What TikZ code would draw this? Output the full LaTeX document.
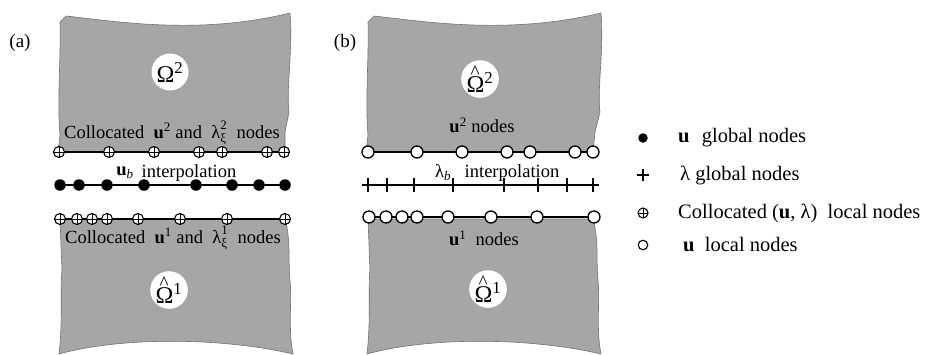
\documentclass[tikz,border=0pt]{standalone}
\usepackage{fontspec}
\usepackage{amsmath}
\setmainfont{Liberation Serif}

\definecolor{regiongray}{RGB}{166,166,166}
\definecolor{regionedge}{RGB}{115,115,115}

% caret placed over an Omega
\newcommand{\hatOmega}{\rlap{\hspace{0.17em}\raisebox{0.58em}{\fontsize{0.8em}{1em}\selectfont\textasciicircum}}Ω}

\begin{document}
\begin{tikzpicture}[x=1pt,y=-1pt,
  region/.style={fill=regiongray, draw=regionedge, line width=0.6},
  iface/.style={line width=1.8, draw=black},
  colnode/.style={circle, draw=black, fill=white, line width=1.1, minimum size=11, inner sep=0,
    path picture={\draw[line width=1]
      (path picture bounding box.north) -- (path picture bounding box.south)
      (path picture bounding box.west) -- (path picture bounding box.east);}},
  dotnode/.style={circle, fill=black, minimum size=11.5, inner sep=0},
  opennode/.style={circle, draw=black, fill=white, line width=1.3, minimum size=12, inner sep=0},
  plusspot/.style={circle, inner sep=0, minimum size=0},
  plusstroke/.style={line width=2.8, draw=black},
  domlabel/.style={circle, fill=white, minimum size=37, inner sep=0, font=\fontsize{24}{26}\selectfont},
  txt/.style={font=\fontsize{18.5}{21}\selectfont, inner sep=0},
  keytxt/.style={font=\fontsize{20.5}{23}\selectfont, inner sep=0, anchor=west},
  panel/.style={font=\fontsize{19}{21}\selectfont, inner sep=0},
]
\useasboundingbox (0,0) rectangle (925,354);

% ---------------- panel (a) ----------------
\node[panel] (lbla) at (20,43) {(a)};

% upper subdomain
\path[region] (58,152) -- (60,135) .. controls (57,100) and (61,60) .. (60,22) -- (66,16)
  .. controls (120,22) and (200,35) .. (290,13)
  .. controls (293,50) and (286,90) .. (289,112) -- (285,132) -- (285,152) -- cycle;
% lower subdomain
\path[region] (60,219) -- (285,219) .. controls (291,240) and (288,262) .. (290,280)
  .. controls (292,300) and (288,330) .. (293,354)
  .. controls (220,337) and (120,337) .. (59,354)
  .. controls (63,320) and (60,290) .. (62,270) -- cycle;

\node[domlabel] (oma2) at (170,72) {Ω\textsuperscript{2}};
\node[domlabel] (oma1) at (169,290) {\hatOmega\textsuperscript{1}};

\node[txt] (tca) at (172,133) {Collocated\ \ \textbf{u}$^{\text{2}}$ and\ \ $\text{λ}^{\text{2}}_{\text{ξ}}$\ \ nodes};
\node[txt] (uba) at (125,173) {\textbf{u}$_{\text{\itshape b}}$};
\node[txt] (ipa) at (189,173) {interpolation};
\node[txt] (tcb) at (173,238) {Collocated\ \ \textbf{u}$^{\text{1}}$ and\ \ $\text{λ}^{\text{1}}_{\text{ξ}}$\ \ nodes};

% upper collocated interface nodes
\coordinate (aTL) at (59,152); \coordinate (aTR) at (284,152);
\draw[iface] (aTL) -- (aTR);
\foreach \x [count=\i] in {59,109,154,199,222,267,284}
  \node[colnode] (aT\i) at (\x,152) {};

% global u nodes
\coordinate (aML) at (60,185); \coordinate (aMR) at (285,185);
\draw[iface] (aML) -- (aMR);
\foreach \x [count=\i] in {60,79,107,144,196,232,259,285}
  \node[dotnode] (aM\i) at (\x,185) {};

% lower collocated interface nodes
\coordinate (aBL) at (60,219); \coordinate (aBR) at (285,219);
\draw[iface] (aBL) -- (aBR);
\foreach \x [count=\i] in {60,77,92,107,138,180,227,285}
  \node[colnode] (aB\i) at (\x,219) {};

% ---------------- panel (b) ----------------
\node[panel] (lblb) at (345,43) {(b)};

\begin{scope}[xshift=308]
\path[region] (58,152) -- (60,135) .. controls (57,100) and (61,60) .. (60,22) -- (66,16)
  .. controls (120,22) and (200,35) .. (293,13)
  .. controls (296,50) and (289,90) .. (292,112) -- (287,132) -- (285,152) -- cycle;
\path[region] (60,219) -- (285,219) .. controls (291,240) and (288,262) .. (290,280)
  .. controls (292,300) and (288,330) .. (293,354)
  .. controls (220,337) and (120,337) .. (59,354)
  .. controls (63,320) and (60,290) .. (62,270) -- cycle;

% u^2 local nodes
\coordinate (bTL) at (60,152); \coordinate (bTR) at (285,152);
\draw[iface] (bTL) -- (bTR);
\foreach \x [count=\i] in {60,109,154,199,222,267,285}
  \node[opennode] (bT\i) at (\x,152) {};

% global lambda nodes, each marked with a bold plus
\coordinate (bML) at (60,185); \coordinate (bMR) at (285,185);
\draw[iface] (bML) -- (bMR);
\foreach \x [count=\i] in {60,79,106,145,196,230,259,285} {
  \node[plusspot] (bM\i) at (\x,185) {};
  \draw[plusstroke] ([yshift=7pt]bM\i.center) -- ([yshift=-7pt]bM\i.center)
                    ([xshift=-6pt]bM\i.center) -- ([xshift=6pt]bM\i.center);
}

% u^1 local nodes
\coordinate (bBL) at (61,217); \coordinate (bBR) at (286,217);
\draw[iface] (bBL) -- (bBR);
\foreach \x [count=\i] in {61,78,94,109,140,183,229,286}
  \node[opennode] (bB\i) at (\x,217) {};
\end{scope}

\node[domlabel] (omb2) at (480,79) {\hatOmega\textsuperscript{2}};
\node[domlabel] (omb1) at (488,289) {\hatOmega\textsuperscript{1}};

\node[txt] (tu2) at (482,125) {\textbf{u}\textsuperscript{2} nodes};
\node[txt] (lbb) at (443,173) {λ$_{\text{\itshape b}}$};
\node[txt] (ipb) at (512,173) {interpolation};
\node[txt] (tu1) at (484,238) {\textbf{u}\textsuperscript{1}\ \ nodes};

% ---------------- legend ----------------
\node[circle, fill=black, minimum size=9.5, inner sep=0] (k1) at (643,138) {};
\node[keytxt] (k1t) at (678,138) {\textbf{u}\hspace{0.6em}global nodes};
\node[plusspot] (k2) at (643,175) {};
\draw[plusstroke, line width=2.6] ([yshift=6pt]k2.center) -- ([yshift=-6pt]k2.center)
                                  ([xshift=-6pt]k2.center) -- ([xshift=6pt]k2.center);
\node[keytxt] (k2t) at (680,175) {λ global nodes};
\node[colnode, minimum size=10] (k3) at (643,213) {};
\node[keytxt] (k3t) at (678,213) {Collocated (\textbf{u}, λ)\hspace{0.5em}local nodes};
\node[circle, draw=black, line width=1.1, minimum size=9.5, inner sep=0] (k4) at (643,245) {};
\node[keytxt] (k4t) at (683,245) {\textbf{u}\hspace{0.5em}local nodes};

\end{tikzpicture}
\end{document}
